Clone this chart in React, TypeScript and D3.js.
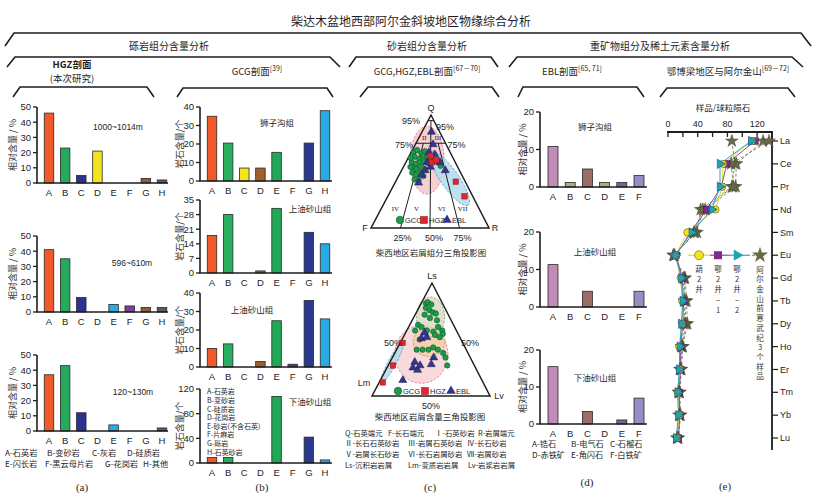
import React from 'react';
import * as d3 from 'd3';

const SANS = '"Liberation Sans", Arial, "Noto Sans CJK SC", sans-serif';
const CJK = '"Noto Sans CJK SC", "Liberation Sans", sans-serif';
const SERIF = '"Liberation Serif", "DejaVu Serif", "Noto Sans CJK SC", serif';
const INK = '#1e1e1e';

// ---------------- (a) HGZ gravel composition (%)
const gravelCats = ['A', 'B', 'C', 'D', 'E', 'F', 'G', 'H'];
const hgz1000 = [46, 23, 5, 21, 0, 0, 3, 2];
const hgz596 = [41, 35, 9.5, 0, 5, 4, 3, 3];
const hgz120 = [37, 43, 12, 0, 4, 0, 0, 2];
const hgzTicks = [0, 10, 20, 30, 40, 50];
const hgzColors = ['#f05a28', '#25a95c', '#2e3192', '#f2e41e', '#29aae1', '#7e3f98', '#8c5e3b', '#5b5b5e'];
const hgzLegend1 = ['A-石英岩', 'B-变砂岩', 'C-灰岩', 'D-硅质岩'];
const hgzLegend2 = ['E-闪长岩', 'F-黑云母片岩', 'G-花岗岩', 'H-其他'];

// ---------------- (b) GCG gravel counts
const gcgShizigou = [35, 20.5, 7, 7, 15.5, 0, 20.5, 38];
const gcgShangyouA = [18, 28, 0, 1, 31, 0, 19.5, 14];
const gcgShangyouB = [10, 12.5, 0, 3, 25, 1.5, 36, 26];
const gcgXiayou = [9, 9, 0, 0, 108, 0, 42, 5];
const gcgTicks1 = [0, 10, 20, 30, 40];
const gcgTicks2 = [0, 7, 14, 21, 28, 35];
const gcgTicks4 = [0, 40, 80, 120];
const gcgColors = ['#f05a28', '#2aae5f', '#f2e41e', '#a0602c', '#1fa855', '#3a4a8a', '#2b3990', '#29aae1'];
const gcgLegend = ['A-石英岩', 'B-变砂岩', 'C-硅质岩', 'D-花岗岩', 'E-砂岩(不含石英)', 'F-片麻岩', 'G-砾岩', 'H-石英砂岩'];

// ---------------- (c) ternary data
const qfrGCG = [[67, 31, 2], [69, 27, 4], [66, 25, 9], [68, 21, 11], [63, 32, 5], [61, 29, 10], [64, 24, 12], [62, 22, 16], [58, 37, 5], [57, 34, 9], [58, 30, 12], [59, 26, 15], [57, 23, 20], [53, 38, 9], [52, 36, 12], [54, 31, 15], [52, 29, 19], [49, 41, 10], [47, 39, 14], [49, 34, 17], [46, 33, 21], [43, 42, 15], [62, 19, 19], [59, 16, 25], [55, 14, 31], [62, 36, 2], [54, 40, 6], [42, 39, 19]];
const qfrHGZ = [[64, 18, 18], [58, 20, 22], [60, 15, 25], [41, 8, 51], [28, 7, 65]];
const qfrEBL = [[85, 7, 8], [74, 11, 15], [67, 18, 15], [51, 29, 20], [47, 34, 19], [40, 40, 20], [65, 14, 21], [58, 13, 29], [51, 12, 37], [58, 24, 18], [54, 23, 23]];
const lsGCG = [[82, 14, 4], [83, 12, 5], [81, 10, 9], [78, 16, 6], [76, 14, 10], [74, 12, 14], [73, 10, 17], [72, 20, 8], [69, 17, 14], [67, 12, 21], [63, 30, 7], [61, 28, 11], [58, 35, 7], [58, 25, 17], [61, 14, 25], [58, 12, 30], [55, 13, 32], [57, 20, 23], [50, 35, 15], [41, 42, 17], [41, 37, 22], [41, 32, 27], [43, 27, 30], [41, 24, 35], [38, 21, 41], [34, 21, 45], [27, 23, 50], [54, 20, 26], [52, 17, 31]];
const lsHGZ = [[47, 51, 2], [27, 69, 4], [12, 85, 3]];
const lsEBL = [[30, 49, 21], [25, 53, 22], [23, 50, 27], [27, 46, 27], [34, 31, 35], [28, 36, 36], [14, 67, 19], [51, 33, 16], [52, 28, 20], [56, 28, 16]];
const qfrFields = [
  { c: [60, 23, 17], rx: 15, ry: 30, angle: 0, fill: '#f6c6cb', stroke: '#cf6070' },
  { c: [44, 12, 44], rx: 29, ry: 8, angle: 55, fill: '#b3dbec', stroke: '#4f8fb8' },
];
const lsFields = [
  { c: [37, 40, 23], rx: 23.5, ry: 25.7, angle: 0, fill: '#f8d3d6', stroke: '#d0606e' },
  { c: [48, 28, 24], rx: 14, ry: 13, angle: 0, fill: '#f3cfa8', stroke: '#c08050' },
  { c: [70, 16, 14], rx: 12.4, ry: 17.7, angle: 0, fill: '#d9d9c2', stroke: '#8a8a6a' },
  { c: [30, 68, 2], rx: 3.5, ry: 21, angle: 28, fill: '#b3dbec', stroke: '#4f8fb8' },
];
const qfrRegions = [
  { t: 'II', c: [80, 15.5, 4.5] }, { t: 'III', c: [80, 4, 16] },
  { t: 'IV', c: [17, 71, 12] }, { t: 'V', c: [17, 53, 30] }, { t: 'VI', c: [17, 32, 51] }, { t: 'VII', c: [17, 14, 69] },
];
const cLegendRows = [
  [['Q-石英端元', 345], ['F-长石端元', 388], ['Ⅰ-石英砂岩', 435], ['R-岩屑端元', 478]],
  [['Ⅱ-长石石英砂岩', 345], ['Ⅲ-岩屑石英砂岩', 408], ['Ⅳ-长石砂岩', 467]],
  [['Ⅴ-岩屑长石砂岩', 345], ['Ⅵ-长石岩屑砂岩', 408], ['Ⅶ-岩屑砂岩', 467]],
  [['Ls-沉积岩岩屑', 345], ['Lm-变质岩岩屑', 408], ['Lv-岩浆岩岩屑', 468]],
];

// ---------------- (d) EBL heavy minerals (%)
const heavyCats = ['A', 'B', 'C', 'D', 'E', 'F'];
const eblShizigou = [10.8, 1.2, 4.8, 1.2, 1.2, 3.1];
const eblShangyou = [11.3, 0, 4.2, 0, 0, 4.2];
const eblXiayou = [15.5, 0, 3.4, 0, 1.1, 7.0];
const eblTicks = [0, 10, 20];
const eblColors = ['#c28bb8', '#a8ae88', '#9c6d66', '#a8ae88', '#6c6a98', '#9a8cc4'];
const eblLegend1 = ['A-锆石', 'B-电气石', 'C-石榴石'];
const eblLegend2 = ['D-赤铁矿', 'E-角闪石', 'F-白铁矿'];

// ---------------- (e) REE chondrite normalised
const REE = ['La', 'Ce', 'Pr', 'Nd', 'Sm', 'Eu', 'Gd', 'Tb', 'Dy', 'Ho', 'Er', 'Tm', 'Yb', 'Lu'];
const hu2 = [113, 74, 73, 64, 26, 10, 17, 19, 19, 15, 16, 13, 15, 12];
const e2well1 = [117, 79, 72, 52, 30, 11, 19, 21, 20, 17, 17, 15, 16, 14];
const e2well2 = [112, 70, 70, 59, 32, 10, 18, 20, 18, 16, 15, 13, 14, 11];
const aerjin1 = [86, 90, 86, 44, 39, 7, 23, 25, 26, 20, 18, 16, 17, 14];
const aerjin2 = [128, 92, 91, 50, 36, 9, 22, 23, 24, 19, 17, 15, 16, 13];
const aerjin3 = [136, 85, 88, 47, 35, 8, 21, 22, 22, 18, 16, 14, 15, 12];
const reeTicks = [0, 20, 40, 60, 80, 100, 120, 140];
const reeLabels = [0, 40, 80, 120];

// ============ components
function Bracket({ pts }: { pts: number[][] }) {
  return <polyline points={pts.map(p => p.join(',')).join(' ')} fill="none" stroke={INK} strokeWidth={1.6} />;
}

function Bars(p: any) {
  const y = d3.scaleLinear().domain([0, p.max]).range([p.yBot, p.yTop]);
  const x = d3.scalePoint<string>().domain(p.cats).range([p.c0, p.c1]);
  return (
    <g>
      {p.values.map((v: number, i: number) => v > 0 ? (
        <rect key={i} x={(x(p.cats[i]) as number) - p.barW / 2} y={y(v)} width={p.barW} height={p.yBot - y(v)}
          fill={p.colors[i]} stroke="#2a2a2a" strokeWidth={0.8} />) : null)}
      <line x1={p.axisX} x2={p.axisX} y1={p.yTop} y2={p.yBot} stroke={INK} strokeWidth={1.6} />
      <line x1={p.axisX - 0.8} x2={p.axisEnd} y1={p.yBot} y2={p.yBot} stroke={INK} strokeWidth={1.6} />
      {p.ticks.map((t: number) => (
        <g key={t}>
          <line x1={p.axisX - 4} x2={p.axisX} y1={y(t)} y2={y(t)} stroke={INK} strokeWidth={1.3} />
          <text x={p.axisX - 6} y={y(t)} dy="0.35em" textAnchor="end" fontSize={9.5} fontFamily={SANS} fill={INK}>{t}</text>
        </g>
      ))}
      {p.cats.map((c: string) => (
        <text key={c} x={x(c)} y={p.yBot + 12.5} textAnchor="middle" fontSize={9.5} fontFamily={SANS} fill={INK}>{c}</text>
      ))}
      <text transform={`translate(${p.yLabelX},${(p.yTop + p.yBot) / 2}) rotate(-90)`} textAnchor="middle" dy="0.35em"
        fontSize={9} fontFamily={CJK} fill="#333">{p.yLabel}</text>
      <text x={p.noteX} y={p.noteY} textAnchor="middle" dy="0.35em" fontSize={p.noteSize || 8.5} fontFamily={p.noteFont || CJK} fill={INK}>{p.note}</text>
    </g>
  );
}

function project(T: number[], L: number[], R: number[], c: number[]) {
  const s = c[0] + c[1] + c[2];
  return [(c[0] * T[0] + c[1] * L[0] + c[2] * R[0]) / s, (c[0] * T[1] + c[1] * L[1] + c[2] * R[1]) / s];
}

function Markers({ T, L, R, g, h, e }: any) {
  const tri = d3.symbol(d3.symbolTriangle, 28)() as string;
  return (
    <g>
      {g.map((c: number[], i: number) => { const [x, y] = project(T, L, R, c); return <circle key={'g' + i} cx={x} cy={y} r={2.7} fill="#1e9a4c" stroke="#0b5a28" strokeWidth={0.6} />; })}
      {e.map((c: number[], i: number) => { const [x, y] = project(T, L, R, c); return <path key={'e' + i} d={tri} transform={`translate(${x},${y})`} fill="#35358a" stroke="#1c1c55" strokeWidth={0.5} />; })}
      {h.map((c: number[], i: number) => { const [x, y] = project(T, L, R, c); return <rect key={'h' + i} x={x - 2.7} y={y - 2.7} width={5.4} height={5.4} fill="#e02630" stroke="#8a1018" strokeWidth={0.5} />; })}
    </g>
  );
}

function Fields({ T, L, R, fields }: any) {
  const h = L[1] - T[1];
  return (
    <g>
      {fields.map((f: any, i: number) => {
        const [x, y] = project(T, L, R, f.c);
        return <ellipse key={i} cx={x} cy={y} rx={f.rx * h / 100} ry={f.ry * h / 100} transform={`rotate(${f.angle} ${x} ${y})`}
          fill={f.fill} fillOpacity={0.85} stroke={f.stroke} strokeWidth={0.7} strokeDasharray="2.5,1.5" />;
      })}
    </g>
  );
}

function TernLegend({ y, xs }: { y: number; xs: number[] }) {
  const tri = d3.symbol(d3.symbolTriangle, 40)() as string;
  return (
    <g fontSize={7.5} fontFamily={SANS} fill={INK}>
      <circle cx={xs[0]} cy={y} r={3.8} fill="#1e9a4c" stroke="#0b5a28" strokeWidth={0.6} />
      <text x={xs[0] + 5} y={y} dy="0.35em">GCG</text>
      <rect x={xs[1] - 3.5} y={y - 3.5} width={7} height={7} fill="#e02630" stroke="#8a1018" strokeWidth={0.5} />
      <text x={xs[1] + 5} y={y} dy="0.35em">HGZ</text>
      <path d={tri} transform={`translate(${xs[2]},${y})`} fill="#35358a" />
      <text x={xs[2] + 5} y={y} dy="0.35em">EBL</text>
    </g>
  );
}

function QFR() {
  const T = [431, 115], L = [371, 228], R = [489, 228];
  const P = (c: number[]) => project(T, L, R, c);
  const q95l = P([95, 5, 0]), q95r = P([95, 0, 5]);
  const q75l = P([75, 25, 0]), q75r = P([75, 0, 25]);
  const b25 = P([0, 75, 25]), b50 = P([0, 50, 50]), b75 = P([0, 25, 75]);
  const t25 = P([75, 18.75, 6.25]), t50 = P([95, 2.5, 2.5]), t75 = P([75, 6.25, 18.75]);
  return (
    <g>
      <Fields T={T} L={L} R={R} fields={qfrFields} />
      <polygon points={[T, L, R].map(p => p.join(',')).join(' ')} fill="none" stroke={INK} strokeWidth={1.5} />
      <line x1={q95l[0]} y1={q95l[1]} x2={q95r[0]} y2={q95r[1]} stroke={INK} strokeWidth={1} />
      <line x1={q75l[0]} y1={q75l[1]} x2={q75r[0]} y2={q75r[1]} stroke={INK} strokeWidth={1} />
      <line x1={b25[0]} y1={b25[1]} x2={t25[0]} y2={t25[1]} stroke={INK} strokeWidth={1} />
      <line x1={b50[0]} y1={b50[1]} x2={t50[0]} y2={t50[1]} stroke={INK} strokeWidth={1} />
      <line x1={b75[0]} y1={b75[1]} x2={t75[0]} y2={t75[1]} stroke={INK} strokeWidth={1} />
      <Markers T={T} L={L} R={R} g={qfrGCG} h={qfrHGZ} e={qfrEBL} />
      {qfrRegions.map(r => { const [x, y] = P(r.c); return <text key={r.t} x={x} y={y} textAnchor="middle" dy="0.35em" fontSize={7} fontFamily={SERIF} fill={INK}>{r.t}</text>; })}
      <g fontSize={9} fontFamily={SANS} fill={INK} textAnchor="middle">
        <text x={T[0]} y={T[1] - 4}>Q</text>
        <text x={L[0] - 6} y={L[1] + 3}>F</text>
        <text x={R[0] + 6} y={R[1] + 3}>R</text>
        <text x={q95l[0] - 17} y={q95l[1]} dy="0.35em">95%</text>
        <text x={q95r[0] + 11} y={q95r[1] + 6} dy="0.35em">95%</text>
        <text x={q75l[0] - 12} y={q75l[1] + 2} dy="0.35em">75%</text>
        <text x={q75r[0] + 11} y={q75r[1] + 2} dy="0.35em">75%</text>
        <text x={b25[0] + 2} y={b25[1] + 13}>25%</text>
        <text x={b50[0] + 4} y={b50[1] + 13}>50%</text>
        <text x={b75[0] + 3} y={b75[1] + 13}>75%</text>
      </g>
      <TernLegend y={220} xs={[400, 424, 447]} />
      <text x={431} y={253} textAnchor="middle" dy="0.35em" fontSize={8.5} fontFamily={CJK} fill={INK}>柴西地区岩屑组分三角投影图</text>
    </g>
  );
}

function LsLmLv() {
  const T = [432, 283], L = [372, 396], R = [490, 396];
  const P = (c: number[]) => project(T, L, R, c);
  const l50 = P([50, 50, 0]), r50 = P([50, 0, 50]), b50 = P([0, 50, 50]);
  return (
    <g>
      <Fields T={T} L={L} R={R} fields={lsFields} />
      <polygon points={[T, L, R].map(p => p.join(',')).join(' ')} fill="none" stroke={INK} strokeWidth={1.5} />
      <Markers T={T} L={L} R={R} g={lsGCG} h={lsHGZ} e={lsEBL} />
      <g fontSize={9} fontFamily={SANS} fill={INK} textAnchor="middle">
        <text x={T[0]} y={T[1] - 4}>Ls</text>
        <text x={L[0] - 8} y={L[1] - 10}>Lm</text>
        <text x={R[0] + 9} y={R[1] + 3}>Lv</text>
        <text x={l50[0] - 9} y={l50[1] + 3} dy="0.35em">50%</text>
        <text x={r50[0] + 9} y={r50[1] + 3} dy="0.35em">50%</text>
        <text x={b50[0]} y={b50[1] + 13}>50%</text>
      </g>
      <TernLegend y={391} xs={[398, 425, 451]} />
      <text x={430} y={417} textAnchor="middle" dy="0.35em" fontSize={8.5} fontFamily={CJK} fill={INK}>柴西地区岩屑含量三角投影图</text>
    </g>
  );
}

function REEChart() {
  const x = d3.scaleLinear().domain([0, 140]).range([668, 772]);
  const y = d3.scalePoint<string>().domain(REE).range([141, 438]);
  const line = d3.line<number>().x(v => x(v)).y((_, i) => y(REE[i]) as number);
  const star = d3.symbol(d3.symbolStar, 52)() as string;
  const tri = d3.symbol(d3.symbolTriangle, 38)() as string;
  const stars = [aerjin1, aerjin2, aerjin3];
  const solid = [
    { d: hu2, c: '#e6d92a' }, { d: e2well1, c: '#8e4ba8' }, { d: e2well2, c: '#2aa8b8' },
  ];
  const yLeg = y('Eu') as number;
  const vtext = (s: string, cx: number, y0: number, step: number) => s.split('').map((ch, i) => (
    <text key={i} x={cx} y={y0 + i * step} textAnchor="middle" dy="0.35em" fontSize={7.6} fontFamily={CJK} fill="#333">{ch}</text>
  ));
  return (
    <g>
      <text x={723} y={108} textAnchor="middle" dy="0.35em" fontSize={8.5} fontFamily={CJK} fill={INK}>样品/球粒陨石</text>
      <line x1={x(0) - 1} x2={x(140)} y1={132} y2={132} stroke={INK} strokeWidth={1.8} />
      {reeTicks.map(t => <line key={t} x1={x(t)} x2={x(t)} y1={132} y2={137} stroke={INK} strokeWidth={1.3} />)}
      {reeLabels.map(t => <text key={t} x={x(t)} y={124} textAnchor="middle" dy="0.35em" fontSize={9} fontFamily={SANS} fill={INK}>{t}</text>)}
      <line x1={x(140)} x2={x(140)} y1={131} y2={450} stroke={INK} strokeWidth={1.8} />
      {REE.map(r => (
        <g key={r}>
          <line x1={x(140)} x2={x(140) + 6} y1={y(r)} y2={y(r)} stroke={INK} strokeWidth={1.2} />
          <text x={x(140) + 8} y={y(r)} dy="0.35em" fontSize={9} fontFamily={SANS} fill={INK}>{r}</text>
        </g>
      ))}
      {stars.map((s, i) => <path key={'sl' + i} d={line(s) as string} fill="none" stroke="#6d6f55" strokeWidth={0.8} strokeDasharray="3,2" />)}
      {solid.map((s, i) => <path key={'l' + i} d={line(s.d) as string} fill="none" stroke={s.c} strokeWidth={1} />)}
      {stars.map((s, i) => s.map((v, j) => <path key={'s' + i + j} d={star} transform={`translate(${x(v)},${y(REE[j])})`} fill="#676a48" stroke="#3c3e28" strokeWidth={0.4} />))}
      {e2well1.map((v, j) => <rect key={'q' + j} x={x(v) - 3.3} y={(y(REE[j]) as number) - 3.3} width={6.6} height={6.6} fill="#7b2d8f" stroke="#3d1048" strokeWidth={0.5} />)}
      {hu2.map((v, j) => <circle key={'c' + j} cx={x(v)} cy={y(REE[j])} r={3.6} fill="#f3e31c" stroke="#6a6010" strokeWidth={0.6} />)}
      {e2well2.map((v, j) => <path key={'t' + j} d={tri} transform={`translate(${x(v)},${y(REE[j])}) rotate(90)`} fill="#1ba6b4" stroke="#1d3f8a" strokeWidth={0.6} />)}
      {/* legend */}
      <line x1={688} x2={710} y1={yLeg} y2={yLeg} stroke="#e6d92a" strokeWidth={1.2} />
      <line x1={710} x2={729} y1={yLeg} y2={yLeg} stroke="#8e4ba8" strokeWidth={1.2} />
      <line x1={729} x2={747} y1={yLeg} y2={yLeg} stroke="#2aa8b8" strokeWidth={1.2} />
      <line x1={747} x2={764} y1={yLeg} y2={yLeg} stroke="#6d6f55" strokeWidth={1} strokeDasharray="3,2" />
      <circle cx={699} cy={yLeg} r={4.5} fill="#f3e31c" stroke="#6a6010" strokeWidth={0.6} />
      <rect x={714} y={yLeg - 4} width={8} height={8} fill="#7b2d8f" />
      <path d={d3.symbol(d3.symbolTriangle, 55)() as string} transform={`translate(${737},${yLeg}) rotate(90)`} fill="#1ba6b4" />
      <path d={d3.symbol(d3.symbolStar, 80)() as string} transform={`translate(${760},${yLeg})`} fill="#676a48" />
      {vtext('葫2井', 699, 269, 10)}
      {vtext('鄂2井−1', 718, 269, 10.3)}
      {vtext('鄂2井−2', 737, 269, 10.3)}
      {vtext('阿尔金山前寒武纪3个样品', 760, 270, 9.7)}
    </g>
  );
}

export default function App() {
  return (
    <svg width={816} height={501} style={{ position: 'absolute', left: 0, top: 0, background: '#fff' }}>
      <rect width={816} height={501} fill="#fff" />
      {/* titles */}
      <text x={411} y={22} textAnchor="middle" dy="0.35em" fontSize={12} fontFamily={CJK} fill={INK}>柴达木盆地西部阿尔金斜坡地区物缘综合分析</text>
      <Bracket pts={[[5, 46], [14, 33], [801, 33], [811, 46]]} />
      <g fontSize={10} fontFamily={CJK} fill={INK} textAnchor="middle">
        <text x={169} y={46} dy="0.35em">砾岩组分含量分析</text>
        <text x={427} y={46} dy="0.35em">砂岩组分含量分析</text>
        <text x={660} y={46} dy="0.35em">重矿物组分及稀土元素含量分析</text>
      </g>
      <Bracket pts={[[7, 67], [15, 57], [330, 57], [340, 67]]} />
      <Bracket pts={[[349, 67], [356, 57], [491, 57], [498, 67]]} />
      <Bracket pts={[[509, 67], [517, 57], [792, 57], [803, 67]]} />
      <g fontSize={9.5} fontFamily={CJK} fill={INK} textAnchor="middle">
        <text x={72} y={65} dy="0.35em" fontWeight="bold">HGZ剖面</text>
        <text x={72} y={79} dy="0.35em">(本次研究)</text>
        <text x={257} y={72} dy="0.35em">GCG剖面<tspan fontSize={7} dy={-4}>[39]</tspan></text>
        <text x={427} y={72} dy="0.35em">GCG,HGZ,EBL剖面<tspan fontSize={7} dy={-4}>[67－70]</tspan></text>
        <text x={572} y={72} dy="0.35em">EBL剖面<tspan fontSize={7} dy={-4}>[65, 71]</tspan></text>
        <text x={728} y={72} dy="0.35em">鄂博梁地区与阿尔金山<tspan fontSize={7} dy={-4}>[69－72]</tspan></text>
      </g>
      <Bracket pts={[[13, 97], [20, 87], [147, 87], [154, 97]]} />
      <Bracket pts={[[177, 97], [183, 88], [327, 88], [333, 97]]} />
      <Bracket pts={[[360, 97], [368, 87], [492, 87], [499, 97]]} />
      <Bracket pts={[[518, 97], [523, 87], [637, 87], [644, 97]]} />
      <Bracket pts={[[660, 97], [667, 88], [788, 88], [795, 97]]} />

      {/* (a) */}
      <Bars cats={gravelCats} values={hgz1000} colors={hgzColors} axisX={37} c0={49} c1={162} axisEnd={168} yTop={107} yBot={183}
        max={50} ticks={hgzTicks} barW={9.5} yLabel="相对含量 / %" yLabelX={13} note="1000~1014m" noteX={118} noteY={127} noteFont={SANS} />
      <Bars cats={gravelCats} values={hgz596} colors={hgzColors} axisX={37} c0={49} c1={162} axisEnd={168} yTop={236} yBot={312}
        max={50} ticks={hgzTicks} barW={9.5} yLabel="相对含量 / %" yLabelX={13} note="596~610m" noteX={132} noteY={263} noteFont={SANS} />
      <Bars cats={gravelCats} values={hgz120} colors={hgzColors} axisX={37} c0={49} c1={162} axisEnd={168} yTop={355} yBot={431}
        max={50} ticks={hgzTicks} barW={9.5} yLabel="相对含量 / %" yLabelX={13} note="120~130m" noteX={133} noteY={392} noteFont={SANS} />
      <g fontSize={8.2} fontFamily={CJK} fill={INK}>
        {hgzLegend1.map((t, i) => <text key={t} x={[5, 47, 92, 127][i]} y={453} dy="0.35em">{t}</text>)}
        {hgzLegend2.map((t, i) => <text key={t} x={[5, 45, 105, 143][i]} y={464} dy="0.35em">{t}</text>)}
      </g>
      <text x={82} y={487} textAnchor="middle" dy="0.35em" fontSize={11} fontFamily={SERIF} fill={INK}>(a)</text>

      {/* (b) */}
      <Bars cats={gravelCats} values={gcgShizigou} colors={gcgColors} axisX={200} c0={212} c1={325} axisEnd={332} yTop={107} yBot={181}
        max={40} ticks={gcgTicks1} barW={9.5} yLabel="岩石含量/个" yLabelX={180} note="狮子沟组" noteX={277} noteY={123} />
      <Bars cats={gravelCats} values={gcgShangyouA} colors={gcgColors} axisX={200} c0={212} c1={325} axisEnd={332} yTop={200} yBot={273}
        max={35} ticks={gcgTicks2} barW={9.5} yLabel="岩石含量/个" yLabelX={180} note="上油砂山组" noteX={310} noteY={209} />
      <Bars cats={gravelCats} values={gcgShangyouB} colors={gcgColors} axisX={200} c0={212} c1={325} axisEnd={332} yTop={293} yBot={367}
        max={40} ticks={gcgTicks1} barW={9.5} yLabel="岩石含量/个" yLabelX={180} note="上油砂山组" noteX={252} noteY={310} />
      <Bars cats={gravelCats} values={gcgXiayou} colors={gcgColors} axisX={200} c0={212} c1={325} axisEnd={332} yTop={389} yBot={463}
        max={120} ticks={gcgTicks4} barW={9.5} yLabel="岩石含量/个" yLabelX={180} note="下油砂山组" noteX={310} noteY={402} />
      <g fontSize={7} fontFamily={CJK} fill={INK}>
        {gcgLegend.map((t, i) => <text key={t} x={207} y={392 + i * 8.6} dy="0.35em">{t}</text>)}
      </g>
      <text x={262} y={487} textAnchor="middle" dy="0.35em" fontSize={11} fontFamily={SERIF} fill={INK}>(b)</text>

      {/* (c) */}
      <QFR />
      <LsLmLv />
      <g fontSize={7.4} fontFamily={CJK} fill={INK}>
        {cLegendRows.map((row, r) => row.map(([t, x]) => <text key={t as string} x={x as number} y={433 + r * 10.7} dy="0.35em">{t}</text>))}
      </g>
      <text x={430} y={487} textAnchor="middle" dy="0.35em" fontSize={11} fontFamily={SERIF} fill={INK}>(c)</text>

      {/* (d) */}
      <Bars cats={heavyCats} values={eblShizigou} colors={eblColors} axisX={540} c0={553} c1={639} axisEnd={647} yTop={112} yBot={187}
        max={20} ticks={eblTicks} barW={10} yLabel="相对含量 / %" yLabelX={523} note="狮子沟组" noteX={595} noteY={127} />
      <Bars cats={heavyCats} values={eblShangyou} colors={eblColors} axisX={540} c0={553} c1={639} axisEnd={647} yTop={232} yBot={307}
        max={20} ticks={eblTicks} barW={10} yLabel="相对含量 / %" yLabelX={523} note="上油砂山组" noteX={595} noteY={252} />
      <Bars cats={heavyCats} values={eblXiayou} colors={eblColors} axisX={540} c0={553} c1={639} axisEnd={647} yTop={350} yBot={424}
        max={20} ticks={eblTicks} barW={10} yLabel="相对含量 / %" yLabelX={523} note="下油砂山组" noteX={595} noteY={378} />
      <g fontSize={8.2} fontFamily={CJK} fill={INK}>
        {eblLegend1.map((t, i) => <text key={t} x={[532, 571, 610][i]} y={444} dy="0.35em">{t}</text>)}
        {eblLegend2.map((t, i) => <text key={t} x={[532, 571, 610][i]} y={455} dy="0.35em">{t}</text>)}
      </g>
      <text x={587} y={482} textAnchor="middle" dy="0.35em" fontSize={11} fontFamily={SERIF} fill={INK}>(d)</text>

      {/* (e) */}
      <REEChart />
      <text x={725} y={486} textAnchor="middle" dy="0.35em" fontSize={11} fontFamily={SERIF} fill={INK}>(e)</text>
    </svg>
  );
}
